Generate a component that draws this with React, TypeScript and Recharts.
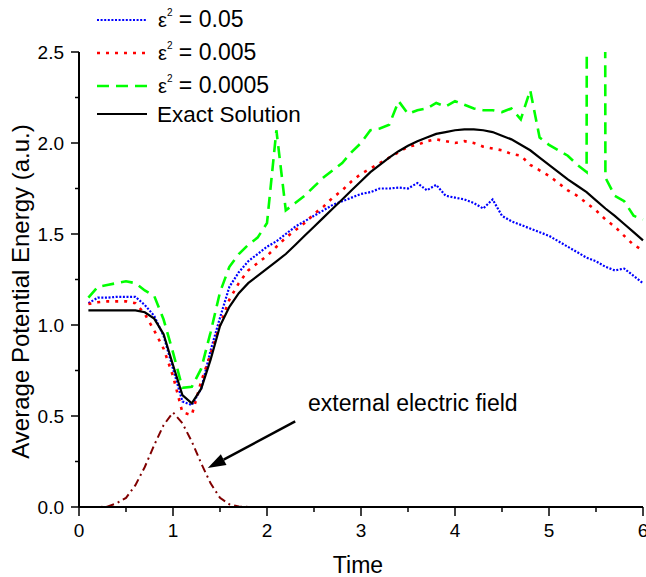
import React from 'react';
import { LineChart, Line, XAxis, YAxis, Legend, ReferenceLine, ReferenceDot } from 'recharts';

const time = [
  0.1, 0.2, 0.3, 0.4, 0.5, 0.6, 0.7, 0.8, 0.9, 1.0,
  1.1, 1.2, 1.3, 1.4, 1.5, 1.6, 1.7, 1.8, 1.9, 2.0,
  2.1, 2.2, 2.3, 2.4, 2.5, 2.6, 2.7, 2.8, 2.9, 3.0,
  3.1, 3.2, 3.3, 3.4, 3.5, 3.6, 3.7, 3.8, 3.9, 4.0,
  4.1, 4.2, 4.3, 4.4, 4.5, 4.6, 4.7, 4.8, 4.9, 5.0,
  5.1, 5.2, 5.3, 5.4, 5.5, 5.6, 5.7, 5.8, 5.9, 6.0,
];

// eps^2 = 0.05
const eps05 = [
  1.12, 1.15, 1.15, 1.155, 1.155, 1.155, 1.11, 1.05, 0.94, 0.76,
  0.58, 0.56, 0.65, 0.86, 1.04, 1.21, 1.29, 1.35, 1.39, 1.43,
  1.46, 1.5, 1.54, 1.57, 1.6, 1.63, 1.66, 1.68, 1.7, 1.72,
  1.73, 1.75, 1.75, 1.755, 1.75, 1.78, 1.74, 1.77, 1.71, 1.7,
  1.69, 1.67, 1.64, 1.69, 1.6, 1.57, 1.55, 1.53, 1.51, 1.49,
  1.46, 1.43, 1.4, 1.37, 1.35, 1.32, 1.3, 1.31, 1.27, 1.23,
];

// eps^2 = 0.005
const eps005 = [
  1.115, 1.125, 1.13, 1.13, 1.13, 1.12, 1.06, 0.97, 0.87, 0.72,
  0.52, 0.505, 0.69, 0.84, 1.0, 1.14, 1.23, 1.3, 1.34, 1.38,
  1.43, 1.48, 1.52, 1.56, 1.61, 1.65, 1.7, 1.74, 1.79, 1.83,
  1.86, 1.89, 1.92, 1.95, 1.98, 1.99, 2.01, 2.02, 2.01, 2.0,
  2.01, 2.0, 1.98, 1.97, 1.96, 1.94, 1.93, 1.88, 1.85, 1.82,
  1.78, 1.74, 1.71, 1.67, 1.63, 1.58, 1.54, 1.49, 1.44, 1.41,
];

// eps^2 = 0.0005 (spike at 5.5 runs far off scale)
const eps0005 = [
  1.15, 1.21, 1.22, 1.23, 1.24, 1.23, 1.19, 1.16, 1.03, 0.85,
  0.655, 0.66, 0.76, 0.96, 1.18, 1.32, 1.39, 1.44, 1.48, 1.56,
  2.07, 1.63, 1.67, 1.71, 1.76, 1.81, 1.85, 1.89, 1.95, 2.0,
  2.07, 2.08, 2.1, 2.23, 2.16, 2.18, 2.19, 2.22, 2.2, 2.23,
  2.21, 2.19, 2.18, 2.18, 2.17, 2.19, 2.13, 2.29, 2.03, 1.99,
  1.96, 1.93, 1.88, 1.84, 40, 1.81, 1.71, 1.68, 1.6, 1.58,
];

const exact = [
  1.08, 1.08, 1.08, 1.08, 1.08, 1.08, 1.07, 1.035, 0.95, 0.78,
  0.615, 0.57, 0.65, 0.81, 0.995, 1.1, 1.175, 1.23, 1.27, 1.31,
  1.35, 1.39, 1.44, 1.49, 1.54, 1.59, 1.64, 1.69, 1.74, 1.79,
  1.84, 1.88, 1.92, 1.955, 1.985, 2.01, 2.03, 2.05, 2.06, 2.07,
  2.075, 2.075, 2.07, 2.06, 2.04, 2.02, 1.99, 1.96, 1.92, 1.88,
  1.84, 1.8, 1.765, 1.73, 1.685, 1.64, 1.6, 1.555, 1.51, 1.465,
];

const field = [
  0, 0, 0.002, 0.02, 0.05, 0.12, 0.22, 0.34, 0.45, 0.52,
  0.46, 0.36, 0.24, 0.13, 0.05, 0.015, 0.003, 0, 0, 0,
  0, 0, 0, 0, 0, 0, 0, 0, 0, 0,
  0, 0, 0, 0, 0, 0, 0, 0, 0, 0,
  0, 0, 0, 0, 0, 0, 0, 0, 0, 0,
  0, 0, 0, 0, 0, 0, 0, 0, 0, 0,
];

const xTicks = [0, 0.5, 1, 1.5, 2, 2.5, 3, 3.5, 4, 4.5, 5, 5.5, 6];
const yTicks = [0, 0.25, 0.5, 0.75, 1, 1.25, 1.5, 1.75, 2, 2.25, 2.5];

const arrowFrom = { x: 2.3, y: 0.47 };
const arrowTo = { x: 1.37, y: 0.214 };
const noteAt = { x: 2.436, y: 0.525 };
const noteText = 'external electric field';

const legendLabels = ['0.05', '0.005', '0.0005', 'Exact Solution'];

const data = time.map((t, i) => ({
  time: t,
  eps05: eps05[i],
  eps005: eps005[i],
  eps0005: eps0005[i],
  exact: exact[i],
  field: field[i],
}));

const FONT = '"Liberation Sans", Arial, sans-serif';

const series = [
  { key: 'eps05', color: '#0000ff', dash: '2 1.6', width: 2.2 },
  { key: 'eps005', color: '#ff0000', dash: '3 6', width: 2.6 },
  { key: 'eps0005', color: '#00ff00', dash: '12 7', width: 2.6 },
  { key: 'exact', color: '#000000', dash: undefined, width: 2.2 },
];

const XTick = (props: any) => {
  const { x, y, payload } = props;
  const major = Number.isInteger(payload.value);
  return (
    <g>
      <line x1={x} y1={y} x2={x} y2={y + (major ? 9 : 5)} stroke="#000" strokeWidth={1.5} />
      {major && (
        <text x={x} y={y + 30} textAnchor="middle" fontSize={19} fontFamily={FONT} fill="#000">
          {payload.value}
        </text>
      )}
    </g>
  );
};

const YTick = (props: any) => {
  const { x, y, payload } = props;
  const major = Number.isInteger(payload.value * 2);
  return (
    <g>
      <line x1={x - (major ? 8 : 4)} y1={y} x2={x} y2={y} stroke="#000" strokeWidth={1.5} />
      {major && (
        <text x={x - 15} y={y + 6.5} textAnchor="end" fontSize={19} fontFamily={FONT} fill="#000">
          {payload.value.toFixed(1)}
        </text>
      )}
    </g>
  );
};

const YTitle = (props: any) => {
  const { x, y, height } = props.viewBox;
  const cx = x + 29;
  const cy = y + height / 2 + 12;
  return (
    <text x={cx} y={cy} transform={`rotate(-90, ${cx}, ${cy})`} textAnchor="middle" fontSize={24} fontFamily={FONT} fill="#000">
      Average Potential Energy (a.u.)
    </text>
  );
};

const XTitle = (props: any) => {
  const { x, y, width } = props.viewBox;
  return (
    <text x={x + width / 2 - 3} y={y + 66} textAnchor="middle" fontSize={23} fontFamily={FONT} fill="#000">
      Time
    </text>
  );
};

const Arrow = (props: any) => {
  const { x1, y1, x2, y2 } = props;
  const ang = Math.atan2(y2 - y1, x2 - x1);
  const len = 18;
  const half = 6;
  const bx = x2 - len * Math.cos(ang);
  const by = y2 - len * Math.sin(ang);
  const px = -Math.sin(ang) * half;
  const py = Math.cos(ang) * half;
  return (
    <g>
      <line x1={x1} y1={y1} x2={bx} y2={by} stroke="#000" strokeWidth={2.5} />
      <polygon points={`${x2},${y2} ${bx + px},${by + py} ${bx - px},${by - py}`} fill="#000" />
    </g>
  );
};

const Note = (props: any) => (
  <text x={props.cx} y={props.cy} fontSize={23} fontFamily={FONT} fill="#000">
    {noteText}
  </text>
);

const LegendBox = () => {
  const rows = [20, 53, 86, 114];
  return (
    <svg width={360} height={130}>
      {series.map((s, i) => (
        <g key={s.key}>
          <line x1={97} y1={rows[i]} x2={147} y2={rows[i]} stroke={s.color} strokeWidth={s.width} strokeDasharray={s.dash} />
          {s.key === 'exact' ? (
            <text x={157} y={rows[i] + 8} fontSize={22.5} fontFamily={FONT} fill="#000">
              {legendLabels[i]}
            </text>
          ) : (
            <text x={158} y={rows[i] + 7} fontSize={23} fontFamily={FONT} fill="#000">
              <tspan fontSize={20}>ε</tspan>
              <tspan fontSize={10} dy={-11}>2</tspan>
              <tspan dy={11}>{` = ${legendLabels[i]}`}</tspan>
            </text>
          )}
        </g>
      ))}
    </svg>
  );
};

export default function App() {
  return (
    <div style={{ position: 'absolute', left: 0, top: 0, width: 646, height: 577, background: '#fff' }}>
      <LineChart width={646} height={577} data={data} margin={{ top: 52, right: 3, left: 0, bottom: 0 }}>
        <XAxis
          dataKey="time"
          type="number"
          domain={[0, 6]}
          ticks={xTicks}
          interval={0}
          height={70}
          tickSize={0}
          tickMargin={0}
          tickLine={false}
          tick={<XTick />}
          axisLine={{ stroke: '#000', strokeWidth: 2 }}
          label={<XTitle />}
        />
        <YAxis
          type="number"
          domain={[0, 2.5]}
          allowDataOverflow
          ticks={yTicks}
          interval={0}
          width={79}
          tickSize={0}
          tickMargin={0}
          tickLine={false}
          tick={<YTick />}
          axisLine={{ stroke: '#000', strokeWidth: 2 }}
          label={<YTitle />}
        />
        <Legend
          verticalAlign="middle"
          align="center"
          layout="horizontal"
          wrapperStyle={{ position: 'absolute', top: 0, left: 0, width: 360, height: 130 }}
          content={() => <LegendBox />}
        />
        <Line type="linear" dataKey="field" stroke="#800000" strokeWidth={2} strokeDasharray="8 4 2 4" dot={false} activeDot={false} isAnimationActive={false} />
        {series.map((s) => (
          <Line
            key={s.key}
            type="linear"
            dataKey={s.key}
            stroke={s.color}
            strokeWidth={s.width}
            strokeDasharray={s.dash}
            dot={false}
            activeDot={false}
            isAnimationActive={false}
          />
        ))}
        <ReferenceLine segment={[arrowFrom, arrowTo]} shape={<Arrow />} />
        <ReferenceDot x={noteAt.x} y={noteAt.y} r={0} shape={<Note />} />
      </LineChart>
    </div>
  );
}
